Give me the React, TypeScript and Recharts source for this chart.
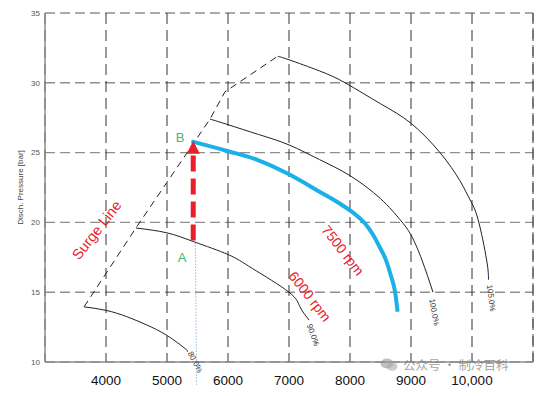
import {
  ComposedChart, Line, XAxis, YAxis, CartesianGrid, ReferenceLine, ReferenceDot, Scatter,
} from "recharts";

// axis ticks
const xTicks = [4000, 5000, 6000, 7000, 8000, 9000, 10000];
const yTicks = [10, 15, 20, 25, 30, 35];

// speed lines (flow, bar)
const speed80 = [
  { x: 3640, y: 13.95 }, { x: 4000, y: 13.7 }, { x: 4340, y: 13.25 }, { x: 4670, y: 12.65 },
  { x: 5000, y: 11.9 }, { x: 5300, y: 10.95 }, { x: 5325, y: 10.78 },
];
const speed90 = [
  { x: 4490, y: 19.6 }, { x: 5000, y: 19.25 }, { x: 5450, y: 18.6 }, { x: 6000, y: 17.7 },
  { x: 6400, y: 16.7 }, { x: 7000, y: 15.0 }, { x: 7180, y: 13.95 }, { x: 7330, y: 13.0 },
];
const speed100 = [
  { x: 5705, y: 27.4 }, { x: 6000, y: 27.0 }, { x: 6500, y: 26.3 }, { x: 7000, y: 25.55 },
  { x: 7500, y: 24.5 }, { x: 8000, y: 23.35 }, { x: 8500, y: 21.7 }, { x: 8820, y: 20.2 },
  { x: 9000, y: 19.1 }, { x: 9180, y: 17.3 }, { x: 9360, y: 15.0 },
];
const speed105 = [
  { x: 6814, y: 31.9 }, { x: 7000, y: 31.65 }, { x: 7500, y: 30.85 }, { x: 7920, y: 30.0 },
  { x: 8500, y: 28.5 }, { x: 9000, y: 27.1 }, { x: 9475, y: 25.0 }, { x: 9800, y: 23.0 },
  { x: 9970, y: 21.6 }, { x: 10100, y: 20.2 }, { x: 10240, y: 17.3 }, { x: 10270, y: 15.9 },
];
const rpm7500 = [
  { x: 5400, y: 25.8 }, { x: 6000, y: 25.1 }, { x: 6500, y: 24.45 }, { x: 7000, y: 23.45 },
  { x: 7500, y: 22.2 }, { x: 7850, y: 21.3 }, { x: 8080, y: 20.6 }, { x: 8250, y: 19.9 },
  { x: 8380, y: 19.1 }, { x: 8490, y: 18.2 }, { x: 8590, y: 17.3 }, { x: 8670, y: 16.2 },
  { x: 8740, y: 15.0 }, { x: 8780, y: 13.6 },
];
const surgeLine = [
  { x: 3640, y: 13.95 }, { x: 4490, y: 19.6 }, { x: 5705, y: 27.4 }, { x: 5950, y: 29.35 },
  { x: 6814, y: 31.9 },
];

// A -> B step
const stepShaft = [{ x: 5430, y: 18.7 }, { x: 5430, y: 24.85 }];
const stepTip = [{ x: 5430, y: 25.85 }];
const dropLine = [{ x: 5465, y: 18.55 }, { x: 5485, y: 8.3 }];

// annotations (data coords)
const notes = [
  { text: "Surge Line", x: 3848, y: 19.45 },
  { text: "7500 rpm", x: 7885, y: 18.0 },
  { text: "6000 rpm", x: 7344, y: 14.7 },
  { text: "A", x: 5246, y: 17.45 },
  { text: "B", x: 5213, y: 26.1 },
  { text: "80.0%", x: 5459, y: 10.0 },
  { text: "90.0%", x: 7393, y: 11.93 },
  { text: "100.0%", x: 9377, y: 13.57 },
  { text: "105.0%", x: 10311, y: 14.58 },
];

const RED = "#e8202a";
const GREEN = "#3cb878";
const font = "'Liberation Sans', Arial, sans-serif";

const noteStyle: Record<string, { angle: number; color: string; size: number }> = {
  "Surge Line": { angle: -52, color: RED, size: 14.5 },
  "7500 rpm": { angle: 52, color: RED, size: 14 },
  "6000 rpm": { angle: 52, color: RED, size: 14 },
  A: { angle: 0, color: GREEN, size: 13 },
  B: { angle: 0, color: GREEN, size: 13 },
  "80.0%": { angle: 62, color: "#333", size: 8 },
  "90.0%": { angle: 70, color: "#333", size: 8 },
  "100.0%": { angle: 80, color: "#333", size: 8 },
  "105.0%": { angle: 83, color: "#333", size: 8 },
};

const NoteText = (text: string) => (props: any) => {
  const s = noteStyle[text];
  const { cx, cy } = props;
  return (
    <text
      x={cx} y={cy} fill={s.color} fontSize={s.size} fontFamily={font}
      textAnchor="middle" dominantBaseline="central"
      transform={s.angle ? `rotate(${s.angle} ${cx} ${cy})` : undefined}
    >
      {text}
    </text>
  );
};

const ArrowTip = (props: any) => {
  const { cx, cy } = props;
  return <path d={`M${cx},${cy} L${cx - 6.5},${cy + 13} L${cx + 6.5},${cy + 13} Z`} fill={RED} />;
};

const curve = (data: { x: number; y: number }[]) => (
  <Line
    data={data} dataKey="y" type="natural" stroke="#222" strokeWidth={1}
    dot={false} activeDot={false} isAnimationActive={false}
  />
);

export default function App() {
  return (
    <div style={{ position: "absolute", left: 0, top: 0, width: 553, height: 396, background: "#fff" }}>
      <ComposedChart width={553} height={396} margin={{ top: 13, right: 20, bottom: 4, left: 15 }}>
        <CartesianGrid vertical={false} stroke="#8f8f8f" strokeWidth={1.4} strokeDasharray="10 5" />
        <CartesianGrid horizontal={false} stroke="#333" strokeWidth={1} strokeDasharray="11 6" />
        <XAxis
          type="number" dataKey="x" domain={[3000, 11000]} ticks={xTicks} allowDataOverflow
          tickLine={false} tickSize={6} tickMargin={7} height={30}
          axisLine={{ stroke: "#8c8c8c", strokeWidth: 1.5 }}
          tick={{ fontSize: 13.5, fill: "#111", fontFamily: font }}
          tickFormatter={(v: number) => (v >= 10000 ? v.toLocaleString("en-US") : String(v))}
        />
        <YAxis
          type="number" domain={[10, 35]} ticks={yTicks} allowDataOverflow
          tickLine={false} tickSize={3} tickMargin={2} width={30}
          axisLine={{ stroke: "#8c8c8c", strokeWidth: 1.5 }}
          tick={{ fontSize: 8, fill: "#555", fontFamily: font }}
          label={{
            content: (p: any) => {
              const vb = p.viewBox || { y: 13, height: 349 };
              const cx = 20;
              const cy = vb.y + vb.height / 2;
              return (
                <text x={cx} y={cy} fontSize={8} fill="#444" fontFamily={font}
                  textAnchor="middle" dominantBaseline="central" transform={`rotate(-90 ${cx} ${cy})`}>
                  Disch. Pressure [bar]
                </text>
              );
            },
          }}
        />
        <ReferenceLine x={11000} stroke="#555" strokeDasharray="11 6" ifOverflow="visible" />

        <ReferenceLine
          segment={dropLine} stroke="#5b9bd5" strokeWidth={1} strokeDasharray="1 2" ifOverflow="visible"
        />
        <Line
          data={surgeLine} dataKey="y" type="linear" stroke="#222" strokeWidth={1} strokeDasharray="7 5"
          dot={false} activeDot={false} isAnimationActive={false}
        />
        {curve(speed80)}
        {curve(speed90)}
        {curve(speed100)}
        {curve(speed105)}
        <Line
          data={rpm7500} dataKey="y" type="monotone" stroke="#1ab0e8" strokeWidth={4}
          dot={false} activeDot={false} isAnimationActive={false}
        />
        <Line
          data={stepShaft} dataKey="y" type="linear" stroke={RED} strokeWidth={5} strokeDasharray="16 7"
          dot={false} activeDot={false} isAnimationActive={false}
        />
        <Scatter data={stepTip} dataKey="y" shape={ArrowTip} isAnimationActive={false} />

        {notes.map((n) => (
          <ReferenceDot key={n.text} x={n.x} y={n.y} r={0} ifOverflow="visible" shape={NoteText(n.text)} />
        ))}
      </ComposedChart>
      <div
        style={{
          position: "absolute", left: 380, top: 358, display: "flex", alignItems: "center", gap: 5,
          fontFamily: "'Noto Sans CJK SC', sans-serif", fontSize: 12.5, lineHeight: "13px",
          color: "rgba(130,130,130,0.75)",
        }}
      >
        <svg width={18} height={13}>
          <ellipse cx={7} cy={5.5} rx={6.5} ry={5} fill="rgba(150,150,150,0.6)" />
          <ellipse cx={12} cy={8.5} rx={5.5} ry={4.2} fill="rgba(170,170,170,0.6)" />
        </svg>
        <span>公众号 · 制冷百科</span>
      </div>
    </div>
  );
}
